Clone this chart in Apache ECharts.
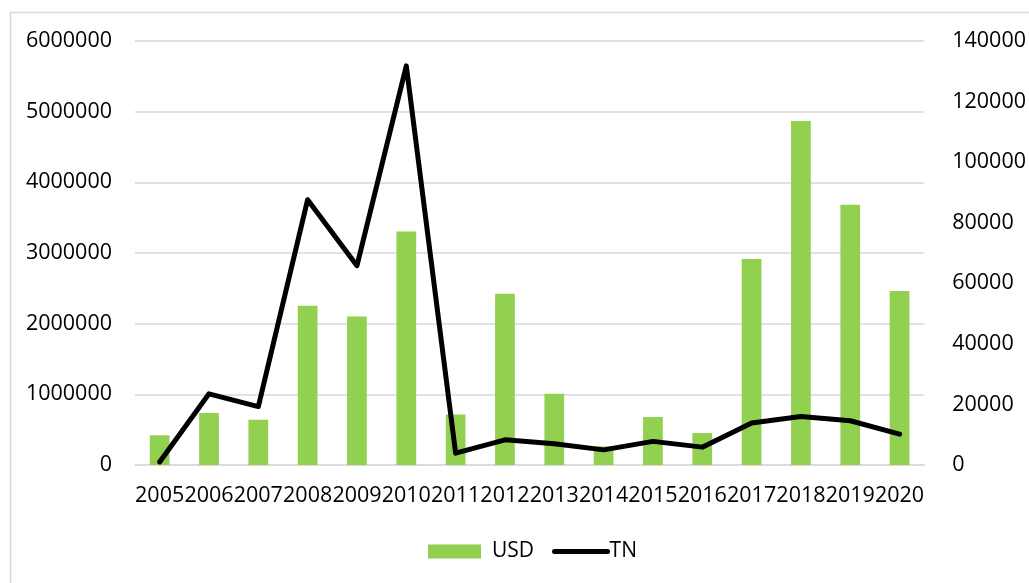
<!DOCTYPE html>
<html>
<head>
<meta charset="utf-8">
<script src="https://cdn.jsdelivr.net/npm/echarts@6/dist/echarts.min.js"></script>
<style>
html,body{margin:0;padding:0;background:#fff;}
#chart{width:1029px;height:583px;}
</style>
</head>
<body>
<div id="chart"></div>
<script>
const years = ['2005','2006','2007','2008','2009','2010','2011','2012','2013','2014','2015','2016','2017','2018','2019','2020'];
const usd = [420000, 736000, 641000, 2254000, 2103000, 3306000, 716000, 2424000, 1009000, 263000, 679000, 453000, 2915000, 4868000, 3683000, 2462000];
const tn = [1000, 23500, 19300, 87600, 65800, 131800, 3900, 8300, 7000, 5000, 7800, 5900, 13900, 16000, 14600, 10200];
const leftTicks = {min: 0, max: 6000000, interval: 1000000};
const rightTicks = {min: 0, max: 140000, interval: 20000};

const font = '"Open Sans", "Noto Sans", sans-serif';
const plain = v => String(v);
const chart = echarts.init(document.getElementById('chart'), null, {renderer: 'canvas'});
chart.setOption({
  animation: false,
  backgroundColor: '#fff',
  textStyle: {fontFamily: font},
  graphic: [{
    type: 'rect',
    shape: {x: 10.5, y: 12.5, width: 1100, height: 700},
    style: {fill: 'none', stroke: '#d9d9d9', lineWidth: 1.5},
    silent: true
  }],
  grid: {left: 135, right: 102, top: 41, bottom: 118, containLabel: false},
  legend: {
    top: 536,
    left: 423,
    itemWidth: 53,
    itemHeight: 14,
    itemGap: 18,
    textStyle: {fontFamily: font, fontSize: 21, color: '#000'},
    data: [
      {name: 'USD', icon: 'rect', textStyle: {padding: [0, 0, 0, 6]}},
      {name: 'TN', itemStyle: {opacity: 0}, lineStyle: {width: 5, cap: 'round', color: '#000'}, textStyle: {padding: [0, 0, 0, -3]}}
    ]
  },
  xAxis: {
    type: 'category',
    data: years,
    axisLine: {lineStyle: {color: '#d9d9d9', width: 1.5}},
    axisTick: {show: false},
    axisLabel: {fontFamily: font, fontSize: 21.5, color: '#000', margin: 20, interval: 0}
  },
  yAxis: [{
    type: 'value',
    min: leftTicks.min, max: leftTicks.max, interval: leftTicks.interval,
    axisLine: {show: false},
    axisTick: {show: false},
    splitLine: {lineStyle: {color: '#d9d9d9', width: 1.5}},
    axisLabel: {fontFamily: font, fontSize: 21.5, color: '#000', margin: 23, formatter: plain}
  }, {
    type: 'value',
    min: rightTicks.min, max: rightTicks.max, interval: rightTicks.interval,
    axisLine: {show: false},
    axisTick: {show: false},
    splitLine: {show: false},
    axisLabel: {fontFamily: font, fontSize: 21.5, color: '#000', margin: 28, formatter: plain}
  }],
  series: [{
    name: 'USD',
    type: 'bar',
    data: usd,
    yAxisIndex: 0,
    barWidth: '40%',
    itemStyle: {color: '#92d050'}
  }, {
    name: 'TN',
    type: 'line',
    data: tn,
    yAxisIndex: 1,
    symbol: 'none',
    lineStyle: {color: '#000', width: 5, join: 'round', cap: 'round'},
    itemStyle: {color: '#000'}
  }]
});
</script>
</body>
</html>
